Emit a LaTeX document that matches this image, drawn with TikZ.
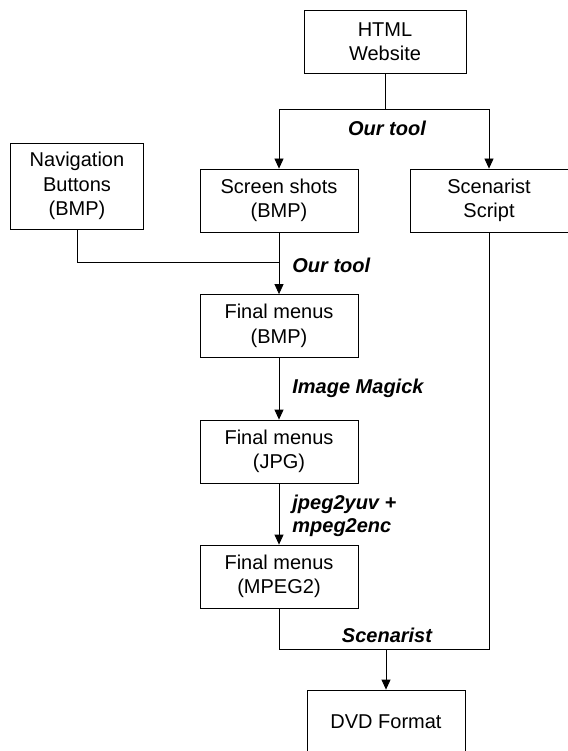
\documentclass[tikz,border=0pt]{standalone}
\usepackage{fontspec}
\setmainfont{Liberation Sans}
\usetikzlibrary{arrows.meta}

\begin{document}
\begin{tikzpicture}[x=1pt,y=-1pt,line width=0.8pt,
    box/.style={draw,inner sep=0pt,minimum width=158pt,minimum height=63pt,align=center,font=\fontsize{20}{24.5}\selectfont},
    tool/.style={inner sep=0pt,align=left,font=\fontsize{20}{23}\selectfont\bfseries\itshape},
    arr/.style={-{Triangle[width=9pt,length=10pt]}}]
    \useasboundingbox (0,0) rectangle (567,751);

    \node[box,minimum width=162pt] (HW) at (385,41.5) {HTML\\Website};
    \node[box] (SS) at (279,200.5) {Screen shots\\(BMP)};
    \node[box] (SC) at (489,200.5) {Scenarist\\Script};
    \node[box,minimum width=133pt,minimum height=86pt] (NB) at (77,186) {Navigation\\Buttons\\(BMP)};
    \node[box] (FB) at (279,326) {Final menus\\(BMP)};
    \node[box] (FJ) at (279,451.5) {Final menus\\(JPG)};
    \node[box] (FM) at (279,576.5) {Final menus\\(MPEG2)};
    \node[box] (DV) at (386,721.5) {DVD Format};

    \coordinate (fork) at (385,109);
    \coordinate (join) at (279,262);
    \coordinate (merge) at (386,649);

    \draw[arr] (HW) -- (fork) -| (SS);
    \draw[arr] (fork) -| (SC);
    \draw (NB) |- (join);
    \draw[arr] (SS) -- (FB);
    \draw[arr] (FB) -- (FJ);
    \draw[arr] (FJ) -- (FM);
    \draw (FM) |- (merge);
    \draw (SC) |- (merge);
    \draw[arr] (merge) -- (DV);

    \node[tool] (T1) at (387,128) {Our tool};
    \node[tool,anchor=west] (T2) at (292,265) {Our tool};
    \node[tool,anchor=west] (T3) at (292,388) {Image Magick};
    \node[tool,anchor=west] (T4) at (292,516) {jpeg2yuv +\\mpeg2enc};
    \node[tool] (T5) at (387,635) {Scenarist};
\end{tikzpicture}
\end{document}
